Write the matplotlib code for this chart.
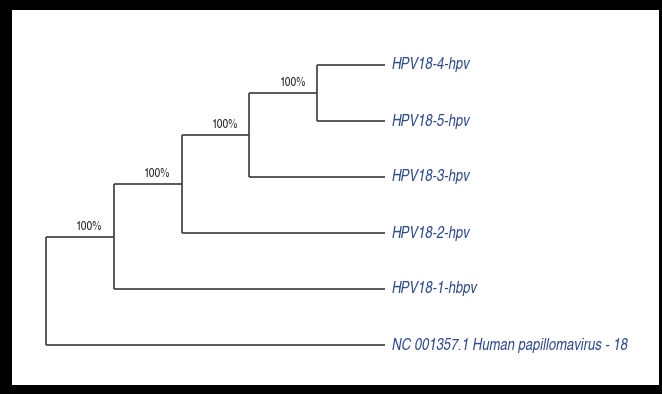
import matplotlib
matplotlib.use("Agg")
import matplotlib.pyplot as plt
from matplotlib.patches import Rectangle

# tree topology: leaves top to bottom, internal clades as (child, child)
leaves = ["HPV18-4-hpv", "HPV18-5-hpv", "HPV18-3-hpv", "HPV18-2-hpv",
          "HPV18-1-hbpv", "NC 001357.1 Human papillomavirus - 18"]
# each clade: name, children, depth (branch units from root)
clades = [
    ("A", ["HPV18-4-hpv", "HPV18-5-hpv"], 4),
    ("B", ["A", "HPV18-3-hpv"], 3),
    ("C", ["B", "HPV18-2-hpv"], 2),
    ("D", ["C", "HPV18-1-hbpv"], 1),
    ("root", ["D", "NC 001357.1 Human papillomavirus - 18"], 0),
]
bootstrap = {"A": "100%", "B": "100%", "C": "100%", "D": "100%"}
leaf_depth = 5

line_color = "#3c3c3c"
label_color = "#2e4b8e"
narrow = ["TeX Gyre Heros Cn", "Liberation Sans", "DejaVu Sans"]

fig = plt.figure(figsize=(6.62, 3.94), dpi=100, facecolor="black")
fig.patches.append(Rectangle((12 / 662, 9 / 394), 647 / 662, 375 / 394,
                             transform=fig.transFigure, facecolor="white",
                             edgecolor="none", zorder=-1))
ax = fig.add_axes([0, 0, 1, 1])
ax.set_facecolor("none")

ypos = {name: i for i, name in enumerate(leaves)}
xpos = {name: leaf_depth for name in leaves}
for name, kids, depth in clades:
    ypos[name] = (ypos[kids[0]] + ypos[kids[1]]) / 2
    xpos[name] = depth

lw = 1.2
for name, kids, depth in clades:
    y0, y1 = ypos[kids[0]], ypos[kids[1]]
    ax.plot([depth, depth], [y0, y1], color=line_color, lw=lw, solid_capstyle="butt")
    for k in kids:
        ax.plot([depth, xpos[k]], [ypos[k], ypos[k]], color=line_color, lw=lw,
                solid_capstyle="butt")

# bootstrap support sits just left of each clade's node
for name, label in bootstrap.items():
    ax.annotate(label, (xpos[name], ypos[name]), xytext=(-8, 5),
                textcoords="offset points", ha="right", va="baseline",
                fontsize=9, family=narrow, color="#222222")

for name in leaves:
    ax.annotate(name, (leaf_depth, ypos[name]), xytext=(5, 0),
                textcoords="offset points", ha="left", va="center",
                fontsize=11.5, style="italic", family=narrow, color=label_color)

px = 67.8
ax.set_xlim(-46 / px, (662 - 46) / px)
ax.set_ylim((394 - 65) / 56, -65 / 56)
ax.axis("off")

fig.savefig("out.png", dpi=100, facecolor="black")
